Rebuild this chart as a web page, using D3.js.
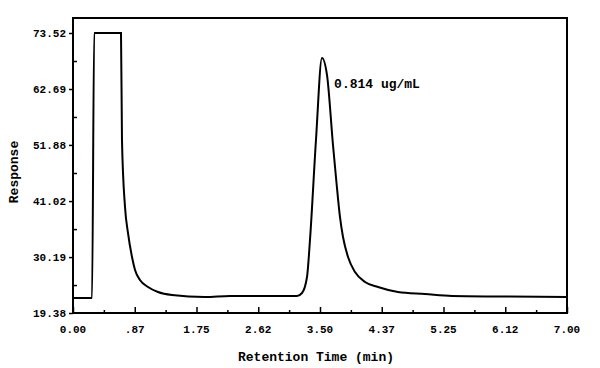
<!DOCTYPE html>
<html>
<head>
<meta charset="utf-8">
<script src="https://cdn.jsdelivr.net/npm/d3@7"></script>
<style>
  body { margin: 0; background: #fff; }
  svg text { font-family: "Courier New", "Liberation Mono", Courier, monospace; font-weight: bold; fill: #000; }
</style>
</head>
<body>
<div id="chart"></div>
<script>
// retention time (min) and detector response
const times = [0, 0.27, 0.30, 0.68, 0.694, 0.737, 0.779, 0.836, 0.879, 0.949, 1.063, 1.204, 1.403,
  1.87, 2.225, 2.79, 3.174, 3.245, 3.316, 3.358, 3.443, 3.528, 3.599, 3.684, 3.734, 3.783, 3.826,
  3.897, 3.996, 4.138, 4.322, 4.605, 4.988, 5.371, 6.05, 7.0]
const responses = [22.28, 22.28, 73.52, 73.52, 52.84, 39.88, 34.85, 30.21, 27.70, 25.76, 24.41, 23.44, 22.86,
  22.47, 22.67, 22.67, 22.67, 23.25, 26.34, 33.50, 52.84, 68.69, 65.41, 51.87, 44.52, 37.95, 34.08,
  30.21, 27.31, 25.38, 24.41, 23.44, 23.05, 22.67, 22.57, 22.47]

const xTicks = [0, 0.875, 1.75, 2.625, 3.5, 4.375, 5.25, 6.125, 7.0]
const xTickLabels = ['0.00', '.87', '1.75', '2.62', '3.50', '4.37', '5.25', '6.12', '7.00']
const yTicks = [19.38, 30.19, 41.02, 51.88, 62.69, 73.52]
const yTickLabels = ['19.38', '30.19', '41.02', '51.88', '62.69', '73.52']

const peakLabel = { time: 3.53, response: 68.69, text: '0.814 ug/mL' }

const width = 600
const height = 368
const plot = { left: 73, right: 567, top: 18, bottom: 313 }

const xScale = d3.scaleLinear()
    .domain([0, 7])
    .range([plot.left, plot.right])

const yScale = d3.scaleLinear()
    .domain([19.38, 73.52])
    .range([plot.bottom, 33])

const svg = d3.select('#chart').append('svg')
    .attr('width', width)
    .attr('height', height)

// frame
svg.append('rect')
    .attr('x', plot.left)
    .attr('y', plot.top)
    .attr('width', plot.right - plot.left)
    .attr('height', plot.bottom - plot.top)
    .attr('fill', 'none')
    .attr('stroke', '#000')
    .attr('stroke-width', 2)

// minor ticks halfway between labelled ones
const xMinor = xTicks.slice(0, -1).map((t, i) => (t + xTicks[i + 1]) / 2)
const yMinor = yTicks.slice(0, -1).map((t, i) => (t + yTicks[i + 1]) / 2)

const xAxis = d3.axisTop(xScale)
    .tickValues(xTicks)
    .tickSize(6)
    .tickFormat('')

const xAxisMinor = d3.axisTop(xScale)
    .tickValues(xMinor)
    .tickSize(3)
    .tickFormat('')

const yAxis = d3.axisLeft(yScale)
    .tickValues(yTicks)
    .tickSize(4)
    .tickPadding(3)
    .tickFormat((d, i) => yTickLabels[i])

const yAxisMinor = d3.axisRight(yScale)
    .tickValues(yMinor)
    .tickSize(4)
    .tickFormat('')

function styleAxis(g) {
  g.select('.domain').remove()
  g.selectAll('line').attr('stroke', '#000').attr('stroke-width', 1.5)
}

svg.append('g')
    .attr('transform', `translate(0, ${plot.bottom})`)
    .call(xAxis)
    .call(styleAxis)

svg.append('g')
    .attr('transform', `translate(0, ${plot.bottom})`)
    .call(xAxisMinor)
    .call(styleAxis)

svg.append('g')
    .attr('transform', `translate(${plot.left}, 0)`)
    .call(yAxis)
    .call(styleAxis)
    .selectAll('text')
    .attr('font-size', 11)

svg.append('g')
    .attr('transform', `translate(${plot.left}, 0)`)
    .call(yAxisMinor)
    .call(styleAxis)

// x tick labels below the frame
svg.append('g').selectAll('text')
    .data(xTicks)
    .enter().append('text')
    .attr('x', d => xScale(d))
    .attr('y', plot.bottom + 20)
    .attr('text-anchor', 'middle')
    .attr('font-size', 11)
    .text((d, i) => xTickLabels[i])

// trace
const line = d3.line()
    .x((d, i) => xScale(times[i]))
    .y(d => yScale(d))
    .curve(d3.curveMonotoneX)

svg.append('path')
    .datum(responses)
    .attr('d', line)
    .attr('fill', 'none')
    .attr('stroke', '#000')
    .attr('stroke-width', 2)

svg.append('text')
    .attr('x', xScale(peakLabel.time) + 12)
    .attr('y', yScale(peakLabel.response) + 30)
    .attr('font-size', 13)
    .text(peakLabel.text)

// axis titles
svg.append('text')
    .attr('x', 316)
    .attr('y', 361)
    .attr('text-anchor', 'middle')
    .attr('font-size', 13)
    .text('Retention Time (min)')

svg.append('text')
    .attr('transform', 'translate(18, 172) rotate(-90)')
    .attr('text-anchor', 'middle')
    .attr('font-size', 13)
    .text('Response')
</script>
</body>
</html>
